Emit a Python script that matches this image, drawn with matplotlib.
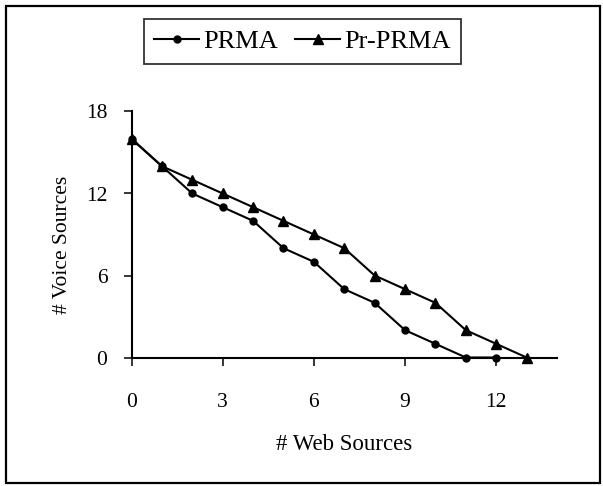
import numpy as np
import matplotlib.pyplot as plt
from matplotlib.patches import Rectangle

plt.rcParams['font.family'] = ['Liberation Serif', 'DejaVu Serif']

web = list(range(14))
prma = [16, 14, 12, 11, 10, 8, 7, 5, 4, 2, 1, 0, 0]
pr_prma = [16, 14, 13, 12, 11, 10, 9, 8, 6, 5, 4, 2, 1, 0]
xticks = [0, 3, 6, 9, 12]
yticks = [0, 6, 12, 18]

W, H = 603, 486
fig = plt.figure(figsize=(W / 100, H / 100), dpi=100)
# axes box in pixels: left 131.5, right 557, top 111.5, bottom 357.5
ax = fig.add_axes([131.5 / W, 1 - 357.5 / H, (557 - 131.5) / W, (357.5 - 111.5) / H])

ax.plot(web[:len(prma)], prma, color='black', lw=1.5, marker='o', ms=5,
        label='PRMA', clip_on=False)
ax.plot(web, pr_prma, color='black', lw=1.5, marker='^', ms=6.5,
        label='Pr-PRMA', clip_on=False)

ax.set_xlim(0, 14)
ax.set_ylim(0, 18)
ax.set_xticks(xticks)
ax.set_yticks(yticks)
ax.tick_params(direction='out', length=5.8, width=1.1, labelsize=15.5)
ax.tick_params(axis='x', pad=19.5)
ax.tick_params(axis='y', pad=11.5)
for s in ['top', 'right']:
    ax.spines[s].set_visible(False)
for s in ['left', 'bottom']:
    ax.spines[s].set_linewidth(1.5)

ax.set_xlabel('# Web Sources', fontsize=16.5, labelpad=16)
ax.set_ylabel('# Voice Sources', fontsize=15.5)
ax.yaxis.set_label_coords(-0.141, 0.457)

leg = fig.legend(loc='upper center', bbox_to_anchor=(302.5 / W, 1 - 19 / H), ncol=2,
                 fontsize=19, frameon=True, fancybox=False, edgecolor='black',
                 handlelength=1.7, handletextpad=0.15, columnspacing=0.65,
                 borderpad=0.4, borderaxespad=0)
leg.get_frame().set_linewidth(1.3)

fig.patches.append(Rectangle((6 / W, 3 / H), 594 / W, 477 / H,
                             transform=fig.transFigure, fill=False,
                             edgecolor='black', lw=1.6))

fig.savefig('out.png', dpi=100)
